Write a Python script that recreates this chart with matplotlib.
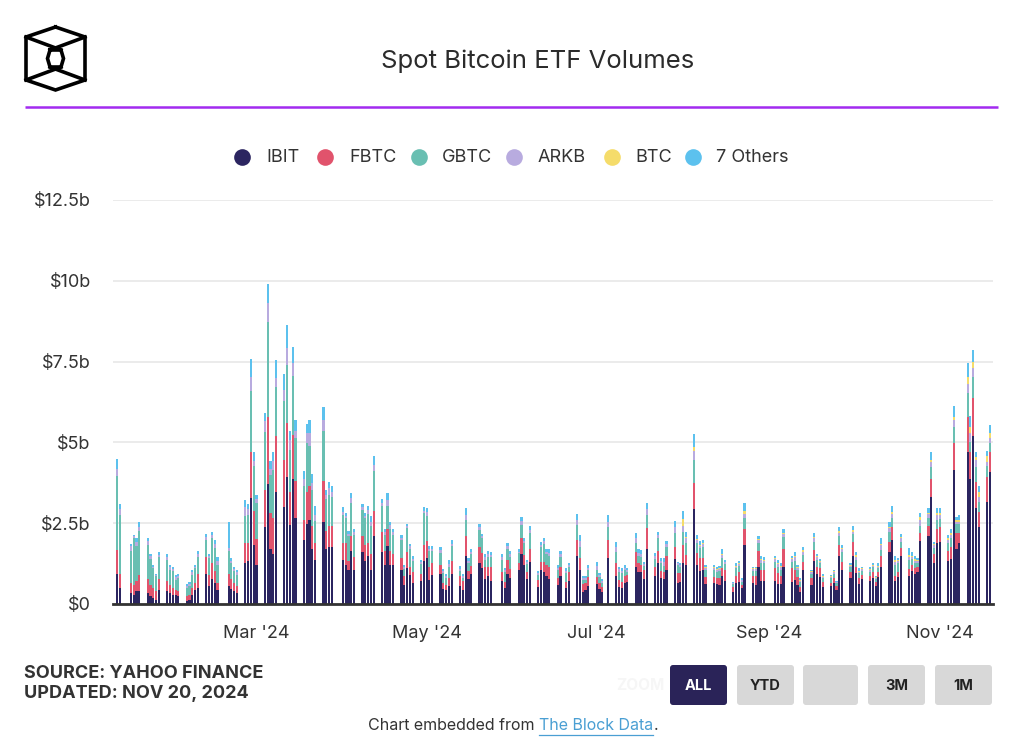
import matplotlib
matplotlib.use('Agg')
import matplotlib.pyplot as plt
import matplotlib.dates as mdates
from matplotlib.patches import FancyBboxPatch
import numpy as np
import pandas as pd

plt.rcParams['font.family'] = ['Inter', 'DejaVu Sans']

# ---------------- data (US$ billions, daily trading volume) ----------------
start_date = '2024-01-11'
end_date = '2024-11-19'
market_holidays = ['2024-01-15', '2024-02-19', '2024-03-29', '2024-05-27',
                   '2024-06-19', '2024-07-04', '2024-09-02']
btc_launch = '2024-07-31'

series_names = ['IBIT', 'FBTC', 'GBTC', 'ARKB', 'BTC', '7 Others']
series_colors = ['#2b2560', '#e1536c', '#69bfb2', '#b8abdf', '#f5dc6a', '#5cc1ee']

ibit = [0.94, 0.49,
        0.34, 0.29, 0.39, 0.39,
        0.34, 0.24, 0.19, 0.13, 0.44,
        0.39, 0.34, 0.29, 0.29, 0.24,
        0.10, 0.13, 0.29, 0.44, 0.49,
        0.94, 0.57, 0.77, 0.65, 0.44,
        0.57, 0.46, 0.39, 0.34,
        1.27, 1.34, 3.27, 1.84, 1.22,
        2.38, 3.71, 1.70, 1.56, 3.48,
        3.00, 3.93, 2.43, 3.88, 2.66,
        1.99, 2.48, 2.61, 1.70, 1.37,
        2.54, 1.70, 1.76, 1.76,
        1.35, 1.22, 1.06, 1.65, 1.06,
        1.61, 1.32, 1.49, 1.06, 2.09,
        1.61, 1.22, 1.78, 1.22, 1.22,
        1.06, 0.60, 1.11, 0.91, 0.65,
        0.72, 1.34, 1.42, 0.73, 0.91,
        0.94, 0.46, 0.44, 0.57, 0.94,
        0.57, 0.44, 1.48, 0.76, 0.93,
        1.26, 1.10, 0.77, 0.88, 0.71,
        0.71, 0.48, 0.93, 0.81,
        1.05, 1.55, 1.21, 0.76, 1.31,
        0.54, 1.05, 1.00, 0.88, 0.76,
        0.59, 0.88, 0.48, 0.71,
        1.48, 1.05, 0.36, 0.43, 0.57,
        0.61, 0.45, 0.38, 1.43,
        0.88, 0.54, 0.48, 0.66, 0.69,
        1.15, 1.00, 1.00, 0.76, 1.70,
        0.88, 1.26, 0.81, 0.76, 1.05,
        1.38, 0.66, 0.69, 1.26, 1.21,
        2.93, 1.21, 1.03, 1.05, 0.61,
        0.66, 0.62, 0.59, 0.87, 0.71,
        0.38, 0.66, 0.69, 0.48, 1.82,
        0.66, 0.59, 1.15, 0.71, 0.71,
        0.71, 0.61, 0.61, 1.15,
        0.69, 0.74, 0.59, 0.38, 1.05,
        0.59, 1.33, 0.93, 0.85, 0.52,
        0.56, 0.64, 0.43, 1.48, 1.05,
        0.79, 1.48, 0.95, 0.61, 0.76,
        0.72, 0.81, 0.56, 0.82, 1.15,
        1.60, 1.98, 0.72, 0.82, 1.48,
        0.87, 1.03, 0.93, 1.00, 1.95,
        2.10, 3.32, 1.28, 1.88, 1.93,
        1.33, 1.38, 4.14, 1.70, 1.88,
        4.69, 3.87, 5.20, 2.98, 2.39,
        3.16, 4.09]

fbtc = [0.72, 0.45,
        0.31, 0.31, 0.33, 0.50,
        0.43, 0.36, 0.30, 0.26, 0.33,
        0.31, 0.26, 0.20, 0.15, 0.15,
        0.14, 0.16, 0.20, 0.21, 0.45,
        0.51, 0.32, 0.50, 0.36, 0.21,
        0.37, 0.31, 0.26, 0.21,
        0.62, 0.55, 1.43, 1.03, 0.79,
        1.16, 2.09, 1.11, 1.10, 1.73,
        1.44, 1.67, 1.05, 1.34, 1.16,
        0.62, 1.00, 1.05, 0.70, 0.52,
        1.28, 0.55, 0.66, 0.66,
        0.54, 0.67, 0.26, 0.44, 0.39,
        0.48, 0.50, 0.40, 0.49, 0.78,
        0.62, 0.41, 0.54, 0.41, 0.33,
        0.36, 0.26, 0.49, 0.22, 0.33,
        0.22, 0.50, 0.52, 0.40, 0.36,
        0.28, 0.19, 0.16, 0.23, 0.38,
        0.29, 0.26, 0.62, 0.27, 0.26,
        0.51, 0.47, 0.38, 0.27, 0.44,
        0.29, 0.21, 0.43, 0.26,
        0.21, 0.48, 0.31, 0.24, 0.39,
        0.20, 0.26, 0.31, 0.33, 0.39,
        0.22, 0.27, 0.21, 0.29,
        0.50, 0.36, 0.26, 0.21, 0.28,
        0.24, 0.19, 0.16, 0.55,
        0.38, 0.20, 0.21, 0.21, 0.21,
        0.47, 0.26, 0.21, 0.29, 0.66,
        0.27, 0.38, 0.22, 0.24, 0.43,
        0.39, 0.29, 0.26, 0.56, 0.31,
        0.82, 0.36, 0.38, 0.36, 0.24,
        0.16, 0.18, 0.20, 0.23, 0.34,
        0.16, 0.21, 0.31, 0.11, 0.49,
        0.21, 0.28, 0.50, 0.34, 0.34,
        0.39, 0.34, 0.27, 0.55,
        0.41, 0.31, 0.26, 0.16, 0.26,
        0.20, 0.34, 0.22, 0.25, 0.15,
        0.10, 0.15, 0.13, 0.34, 0.26,
        0.21, 0.45, 0.18, 0.18, 0.14,
        0.15, 0.19, 0.13, 0.18, 0.34,
        0.33, 0.41, 0.15, 0.18, 0.24,
        0.20, 0.18, 0.17, 0.15, 0.26,
        0.32, 0.55, 0.27, 0.43, 0.44,
        0.32, 0.37, 0.83, 0.49, 0.31,
        1.10, 0.84, 1.16, 0.80, 0.47,
        0.78, 0.62]

gbtc = [2.29, 1.82,
        1.00, 1.44, 1.06, 1.38,
        1.07, 0.79, 0.62, 0.48, 0.68,
        0.67, 0.46, 0.52, 0.31, 0.41,
        0.25, 0.26, 0.42, 0.46, 0.51,
        0.52, 0.53, 0.77, 0.72, 0.57,
        0.69, 0.50, 0.36, 0.36,
        0.82, 0.87, 1.88, 1.39, 1.11,
        1.77, 2.94, 1.19, 1.49, 1.50,
        1.83, 1.80, 1.29, 1.84, 1.31,
        1.03, 1.50, 1.22, 1.14, 0.67,
        1.54, 1.00, 0.96, 0.89,
        0.87, 0.77, 0.77, 1.03, 0.69,
        0.83, 0.84, 0.91, 0.85, 1.23,
        0.79, 0.51, 0.72, 0.70, 0.59,
        0.55, 0.22, 0.75, 0.58, 0.34,
        0.30, 0.97, 0.79, 0.50, 0.36,
        0.36, 0.31, 0.20, 0.36, 0.46,
        0.15, 0.10, 0.50, 0.23, 0.36,
        0.52, 0.46, 0.21, 0.31, 0.31,
        0.36, 0.31, 0.33, 0.39,
        0.31, 0.41, 0.36, 0.24, 0.49,
        0.16, 0.46, 0.55, 0.34, 0.33,
        0.24, 0.31, 0.26, 0.15,
        0.46, 0.36, 0.12, 0.10, 0.20,
        0.20, 0.21, 0.12, 0.41,
        0.36, 0.26, 0.28, 0.18, 0.10,
        0.26, 0.22, 0.25, 0.13, 0.39,
        0.23, 0.39, 0.23, 0.19, 0.29,
        0.44, 0.26, 0.21, 0.42, 0.36,
        0.72, 0.31, 0.31, 0.36, 0.20,
        0.23, 0.20, 0.24, 0.31, 0.19,
        0.08, 0.23, 0.19, 0.10, 0.34,
        0.16, 0.16, 0.23, 0.21, 0.21,
        0.21, 0.20, 0.18, 0.38,
        0.21, 0.28, 0.20, 0.13, 0.21,
        0.14, 0.26, 0.21, 0.16, 0.12,
        0.13, 0.14, 0.08, 0.28, 0.31,
        0.13, 0.23, 0.23, 0.16, 0.13,
        0.13, 0.13, 0.08, 0.10, 0.18,
        0.31, 0.26, 0.34, 0.26, 0.21,
        0.29, 0.17, 0.16, 0.13, 0.20,
        0.25, 0.38, 0.17, 0.29, 0.25,
        0.23, 0.28, 0.51, 0.28, 0.28,
        0.73, 0.31, 0.67, 0.47, 0.30,
        0.33, 0.26]

arkb = [0.24, 0.18,
        0.13, 0.05, 0.13, 0.10,
        0.10, 0.08, 0.05, 0.03, 0.07,
        0.09, 0.08, 0.07, 0.08, 0.07,
        0.06, 0.06, 0.07, 0.05, 0.10,
        0.09, 0.06, 0.08, 0.12, 0.10,
        0.10, 0.07, 0.07, 0.07,
        0.29, 0.17, 0.44, 0.15, 0.12,
        0.34, 0.57, 0.18, 0.26, 0.28,
        0.36, 0.52, 0.29, 0.39, 0.23,
        0.23, 0.31, 0.41, 0.20, 0.20,
        0.34, 0.12, 0.20, 0.15,
        0.10, 0.07, 0.08, 0.15, 0.09,
        0.08, 0.07, 0.10, 0.15, 0.21,
        0.10, 0.08, 0.18, 0.10, 0.08,
        0.08, 0.06, 0.06, 0.07, 0.07,
        0.06, 0.08, 0.12, 0.08, 0.08,
        0.08, 0.06, 0.07, 0.09, 0.09,
        0.08, 0.06, 0.15, 0.07, 0.07,
        0.08, 0.06, 0.09, 0.09, 0.06,
        0.09, 0.05, 0.09, 0.09,
        0.05, 0.12, 0.08, 0.05, 0.10,
        0.06, 0.07, 0.08, 0.06, 0.09,
        0.07, 0.09, 0.07, 0.05,
        0.17, 0.18, 0.06, 0.06, 0.07,
        0.12, 0.05, 0.05, 0.16,
        0.14, 0.07, 0.06, 0.07, 0.05,
        0.15, 0.10, 0.10, 0.06, 0.18,
        0.09, 0.10, 0.07, 0.10, 0.09,
        0.17, 0.05, 0.04, 0.16, 0.15,
        0.27, 0.10, 0.09, 0.08, 0.06,
        0.06, 0.06, 0.06, 0.11, 0.05,
        0.03, 0.06, 0.05, 0.04, 0.15,
        0.05, 0.05, 0.09, 0.09, 0.08,
        0.08, 0.08, 0.08, 0.09,
        0.07, 0.11, 0.06, 0.05, 0.09,
        0.05, 0.10, 0.08, 0.05, 0.05,
        0.04, 0.05, 0.03, 0.09, 0.07,
        0.05, 0.08, 0.10, 0.05, 0.04,
        0.05, 0.05, 0.04, 0.06, 0.15,
        0.10, 0.15, 0.10, 0.06, 0.10,
        0.10, 0.08, 0.08, 0.05, 0.19,
        0.10, 0.15, 0.10, 0.15, 0.13,
        0.10, 0.10, 0.21, 0.07, 0.07,
        0.30, 0.26, 0.26, 0.20, 0.16,
        0.13, 0.18]

# Grayscale Bitcoin Mini Trust (BTC) - trades from its launch date onward
btc_since_launch = [0.02, 0.23, 0.05,
                    0.13, 0.04, 0.03, 0.03, 0.03,
                    0.03, 0.03, 0.03, 0.04, 0.02,
                    0.01, 0.03, 0.03, 0.02, 0.08,
                    0.02, 0.02, 0.04, 0.03, 0.03,
                    0.03, 0.04, 0.04, 0.04,
                    0.03, 0.04, 0.03, 0.03, 0.05,
                    0.03, 0.05, 0.04, 0.03, 0.03,
                    0.03, 0.03, 0.02, 0.07, 0.05,
                    0.03, 0.05, 0.05, 0.03, 0.03,
                    0.03, 0.03, 0.02, 0.03, 0.05,
                    0.05, 0.05, 0.05, 0.04, 0.05,
                    0.05, 0.04, 0.04, 0.03, 0.08,
                    0.05, 0.07, 0.04, 0.07, 0.07,
                    0.05, 0.07, 0.10, 0.07, 0.07,
                    0.21, 0.20, 0.20, 0.10, 0.13,
                    0.18, 0.15]

others = [0.29, 0.15,
          0.09, 0.05, 0.13, 0.17,
          0.10, 0.08, 0.06, 0.04, 0.08,
          0.09, 0.08, 0.08, 0.08, 0.07,
          0.07, 0.06, 0.08, 0.06, 0.10,
          0.10, 0.07, 0.10, 0.14, 0.13,
          0.80, 0.08, 0.08, 0.08,
          0.23, 0.16, 0.56, 0.28, 0.13,
          0.26, 0.60, 0.25, 0.28, 0.55,
          0.49, 0.72, 0.30, 0.51, 0.34,
          0.23, 0.29, 0.41, 0.29, 0.28,
          0.39, 0.17, 0.18, 0.18,
          0.13, 0.08, 0.08, 0.16, 0.09,
          0.09, 0.08, 0.13, 0.16, 0.26,
          0.13, 0.10, 0.21, 0.11, 0.10,
          0.09, 0.08, 0.07, 0.09, 0.08,
          0.07, 0.10, 0.12, 0.09, 0.09,
          0.10, 0.07, 0.07, 0.10, 0.10,
          0.10, 0.08, 0.21, 0.08, 0.08,
          0.10, 0.07, 0.10, 0.10, 0.08,
          0.10, 0.05, 0.10, 0.10,
          0.07, 0.14, 0.09, 0.07, 0.13,
          0.07, 0.09, 0.09, 0.08, 0.12,
          0.09, 0.10, 0.08, 0.06,
          0.19, 0.20, 0.08, 0.08, 0.09,
          0.14, 0.05, 0.06, 0.20,
          0.17, 0.08, 0.07, 0.09, 0.05,
          0.18, 0.11, 0.11, 0.07, 0.20,
          0.10, 0.11, 0.08, 0.12, 0.10,
          0.20, 0.05, 0.04, 0.26, 0.16,
          0.38, 0.11, 0.11, 0.10, 0.06,
          0.06, 0.06, 0.07, 0.13, 0.05,
          0.03, 0.07, 0.06, 0.04, 0.25,
          0.05, 0.05, 0.09, 0.10, 0.09,
          0.06, 0.09, 0.08, 0.10,
          0.07, 0.12, 0.07, 0.06, 0.09,
          0.04, 0.13, 0.07, 0.04, 0.06,
          0.04, 0.04, 0.03, 0.11, 0.08,
          0.05, 0.12, 0.11, 0.07, 0.05,
          0.07, 0.05, 0.04, 0.07, 0.16,
          0.16, 0.18, 0.12, 0.07, 0.08,
          0.21, 0.12, 0.10, 0.05, 0.14,
          0.16, 0.22, 0.07, 0.16, 0.16,
          0.12, 0.12, 0.33, 0.09, 0.14,
          0.43, 0.33, 0.37, 0.16, 0.21,
          0.16, 0.24]

y_ticks = [0, 2.5, 5, 7.5, 10, 12.5]
y_tick_labels = ['$0', '$2.5b', '$5b', '$7.5b', '$10b', '$12.5b']
x_tick_dates = ['2024-03-01', '2024-05-01', '2024-07-01', '2024-09-01', '2024-11-01']
x_tick_labels = ["Mar '24", "May '24", "Jul '24", "Sep '24", "Nov '24"]

# ---------------- trading-day axis ----------------
days = pd.bdate_range(start_date, end_date)
days = days[~days.isin(pd.to_datetime(market_holidays))]
n = len(days)
btc = np.zeros(n)
btc[days >= pd.Timestamp(btc_launch)] = btc_since_launch
series = [np.array(ibit), np.array(fbtc), np.array(gbtc), np.array(arkb), btc, np.array(others)]
for s in series:
    assert len(s) == n, (len(s), n)

xd = mdates.date2num(days.to_pydatetime())

# ---------------- figure ----------------
W, H = 1024, 750
fig = plt.figure(figsize=(W / 100, H / 100), dpi=100)
fig.patch.set_facecolor('white')

ax_l, ax_r, ax_t, ax_b = 113, 993, 200, 604
ax = fig.add_axes([ax_l / W, (H - ax_b) / H, (ax_r - ax_l) / W, (ax_b - ax_t) / H])

bottom = np.zeros(n)
for vals, col in zip(series, series_colors):
    ax.bar(xd, vals, bottom=bottom, width=0.78, color=col, linewidth=0, zorder=3)
    bottom = bottom + vals

ax.set_ylim(0, 12.5)
x0 = mdates.date2num(pd.Timestamp(start_date).to_pydatetime())
x1 = mdates.date2num(pd.Timestamp(end_date).to_pydatetime())
ax.set_xlim(x0 - 1.45, x1 + 1.1)
ax.set_yticks(y_ticks)
ax.set_yticklabels(y_tick_labels)
ax.set_xticks(mdates.date2num(pd.to_datetime(x_tick_dates).to_pydatetime()))
ax.set_xticklabels(x_tick_labels)
ax.tick_params(axis='y', length=0, pad=16, labelsize=13, labelcolor='#333333')
ax.tick_params(axis='x', length=0, pad=15, labelsize=13, labelcolor='#333333')
ax.grid(axis='y', color='#e8e8e8', linewidth=1.2, zorder=0)
ax.set_axisbelow(True)
for sp in ['top', 'right', 'left']:
    ax.spines[sp].set_visible(False)
ax.spines['bottom'].set_color('#333333')
ax.spines['bottom'].set_linewidth(2)
ax.spines['bottom'].set_zorder(5)

# ---------------- overlay (pixel coordinates) ----------------
ov = fig.add_axes([0, 0, 1, 1], zorder=10)
ov.set_xlim(0, W)
ov.set_ylim(H, 0)
ov.axis('off')
ov.patch.set_alpha(0)

# logo
lw_logo = 2.6
outer = [(55.5, 27), (85, 37), (85, 80), (55.5, 90), (26, 80), (26, 37), (55.5, 27)]
ov.plot(*zip(*outer), color='black', lw=lw_logo, solid_joinstyle='miter')
inner = [(50, 50), (61, 50), (63.5, 58.5), (61, 67), (50, 67), (47.5, 58.5), (50, 50)]
ov.plot(*zip(*inner), color='black', lw=lw_logo, solid_joinstyle='miter')
for seg in [[(26, 37), (61, 50)], [(85, 37), (50, 50)],
            [(26, 80), (61, 67)], [(85, 80), (50, 67)]]:
    ov.plot(*zip(*seg), color='black', lw=lw_logo)

# title and rule
ov.text(538, 61, 'Spot Bitcoin ETF Volumes', ha='center', va='center',
        fontsize=18.5, color='#2b2b2b')
ov.plot([25, 998], [107, 107], color='#a22bf0', lw=1.8, solid_capstyle='butt')

# legend
leg_circle_x = [242, 325, 419, 514, 612, 693]
leg_text_x = [266, 349, 442, 538, 635, 716]
for cx, tx, name, col in zip(leg_circle_x, leg_text_x, series_names, series_colors):
    ov.plot([cx], [157], marker='o', ms=12, color=col, mec='none')
    ov.text(tx, 158, name, ha='left', va='center', fontsize=13, color='#333333')

# footer
ov.text(24, 673, 'SOURCE: YAHOO FINANCE', ha='left', va='center', fontsize=13,
        fontweight='bold', color='#333333')
ov.text(24, 694, 'UPDATED: NOV 20, 2024', ha='left', va='center', fontsize=13,
        fontweight='bold', color='#333333')

ov.text(640, 685, 'ZOOM', ha='center', va='center', fontsize=11, fontweight='bold',
        color='#f6f6f6')
buttons = [(670, 727, 'ALL', '#2a2358', 'white'),
           (737, 794, 'YTD', '#d8d8d8', '#222222'),
           (803, 858, '', '#d8d8d8', '#222222'),
           (868, 925, '3M', '#d8d8d8', '#222222'),
           (935, 992, '1M', '#d8d8d8', '#222222')]
for bx0, bx1, lab, fc, tc in buttons:
    ov.add_patch(FancyBboxPatch((bx0 + 2, 667), bx1 - bx0 - 4, 36,
                                boxstyle='round,pad=2,rounding_size=3',
                                facecolor=fc, edgecolor='none'))
    if lab:
        ov.text((bx0 + bx1) / 2, 686, lab, ha='center', va='center', fontsize=10.5,
                fontweight='bold', color=tc)

t1 = ov.text(539, 726, 'Chart embedded from ', ha='right', va='center',
             fontsize=11.5, color='#333333')
t2 = ov.text(539, 726, 'The Block Data', ha='left', va='center',
             fontsize=11.5, color='#4a9fd3')
fig.canvas.draw()
bb = t2.get_window_extent()
ov.plot([bb.x0, bb.x1], [H - bb.y0 + 1, H - bb.y0 + 1], color='#4a9fd3', lw=0.9)
ov.text(bb.x1 + 1, 726, '.', ha='left', va='center', fontsize=11.5, color='#333333')

fig.savefig('out.png', dpi=100, facecolor='white')
